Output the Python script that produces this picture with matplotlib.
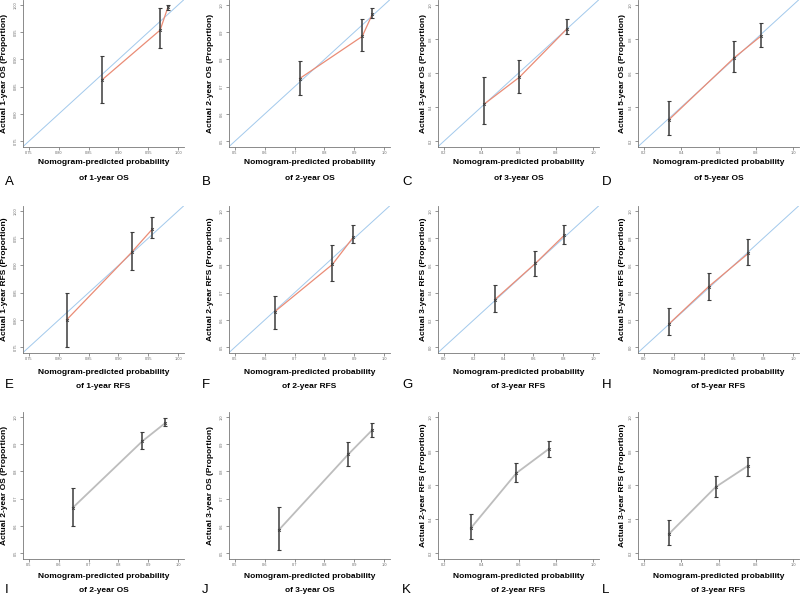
import matplotlib
matplotlib.use("Agg")
import matplotlib.pyplot as plt
import numpy as np

plt.rcParams['font.family'] = ['Liberation Sans', 'DejaVu Sans']

# Panel letters and outcome names (row by row)
letters = ["A", "B", "C", "D", "E", "F", "G", "H", "I", "J", "K", "L"]
outcomes = ["1-year OS", "2-year OS", "3-year OS", "5-year OS",
            "1-year RFS", "2-year RFS", "3-year RFS", "5-year RFS",
            "2-year OS", "3-year OS", "2-year RFS", "3-year RFS"]

# Axis tick ranges (first tick, last tick, step, decimals)
tick_lo = [0.75, 0.5, 0.2, 0.2, 0.75, 0.5, 0.0, 0.0, 0.5, 0.5, 0.2, 0.2]
tick_hi = [1.00, 1.0, 1.0, 1.0, 1.00, 1.0, 1.0, 1.0, 1.0, 1.0, 1.0, 1.0]
tick_step = [0.05, 0.1, 0.2, 0.2, 0.05, 0.1, 0.2, 0.2, 0.1, 0.1, 0.2, 0.2]
tick_dec = [2, 1, 1, 1, 2, 1, 1, 1, 1, 1, 1, 1]

# Nomogram-predicted probability (x) per panel
pred = [
    [0.873, 0.970, 0.983],   # A
    [0.717, 0.927, 0.961],   # B
    [0.416, 0.605, 0.859],   # C
    [0.332, 0.683, 0.828],   # D
    [0.813, 0.922, 0.957],   # E
    [0.633, 0.827, 0.897],   # F
    [0.340, 0.613, 0.807],   # G
    [0.168, 0.433, 0.700],   # H
    [0.647, 0.880, 0.957],   # I
    [0.647, 0.880, 0.960],   # J
    [0.344, 0.589, 0.762],   # K
    [0.333, 0.584, 0.756],   # L
]
# Actual proportion (y) per panel
actual = [
    [0.863, 0.954, 0.996],
    [0.730, 0.885, 0.967],
    [0.418, 0.576, 0.859],
    [0.324, 0.689, 0.818],
    [0.800, 0.924, 0.967],
    [0.630, 0.804, 0.904],
    [0.348, 0.615, 0.822],
    [0.171, 0.444, 0.689],
    [0.667, 0.911, 0.978],
    [0.585, 0.863, 0.952],
    [0.347, 0.671, 0.812],
    [0.312, 0.588, 0.712],
]
# 95% CI lower / upper
ci_low = [
    [0.820, 0.922, 0.990],
    [0.670, 0.830, 0.952],
    [0.300, 0.482, 0.829],
    [0.235, 0.606, 0.753],
    [0.750, 0.891, 0.950],
    [0.567, 0.744, 0.881],
    [0.259, 0.526, 0.755],
    [0.089, 0.348, 0.600],
    [0.600, 0.881, 0.967],
    [0.511, 0.822, 0.926],
    [0.282, 0.618, 0.765],
    [0.247, 0.529, 0.653],
]
ci_high = [
    [0.906, 0.995, 1.000],
    [0.793, 0.948, 0.990],
    [0.576, 0.676, 0.918],
    [0.435, 0.788, 0.894],
    [0.850, 0.962, 0.989],
    [0.689, 0.874, 0.948],
    [0.459, 0.704, 0.896],
    [0.289, 0.548, 0.793],
    [0.741, 0.944, 0.996],
    [0.670, 0.907, 0.978],
    [0.429, 0.729, 0.859],
    [0.394, 0.653, 0.765],
]

W, H = 800, 596
fig = plt.figure(figsize=(W / 100, H / 100), dpi=100)

# layout in pixels
col_left = [23, 229, 438, 638]
col_ylab = [5, 210, 423, 623]
col_letter = [5, 202, 402, 602]
row_top = [-0.4, 205.6, 411.6]
ax_w, ax_h = 161, 147
row_lab1 = [163, 372, 577]
row_lab2 = [178, 386, 590]
row_letter = [182, 385, 590]

RED = "#ea8c76"
BLUE = "#a2c9ec"
GREY = "#bdbdbd"
BAR = "#3c3c3c"

for i in range(12):
    r, c = divmod(i, 4)
    left, top = col_left[c], row_top[r]
    ax = fig.add_axes([left / W, 1 - (top + ax_h) / H, ax_w / W, ax_h / H])

    ticks = np.round(np.arange(tick_lo[i], tick_hi[i] + 1e-9, tick_step[i]), 2)
    pad = 0.04 * (tick_hi[i] - tick_lo[i])
    lims = (tick_lo[i] - pad, tick_hi[i] + pad)
    ax.set_xlim(lims)
    ax.set_ylim(lims)

    x = np.array(pred[i])
    y = np.array(actual[i])
    lo = np.array(ci_low[i])
    hi = np.array(ci_high[i])

    if r < 2:
        ax.plot(lims, lims, color=BLUE, lw=0.7, zorder=1)
        ax.plot(x, y, color=RED, lw=0.9, zorder=2)
    else:
        ax.plot(x, y, color=GREY, lw=1.3, zorder=2)
    ax.errorbar(x, y, yerr=[y - lo, hi - y], fmt='none', ecolor=BAR,
                elinewidth=1.1, capsize=1.6, capthick=0.8, zorder=3)
    ax.plot(x, y, ls='none', marker='x', ms=2, mew=0.6, color=BAR, zorder=4)

    fmt = "%%.%df" % tick_dec[i]
    ax.set_xticks(ticks)
    ax.set_yticks(ticks)
    ax.set_xticklabels([fmt % t for t in ticks])
    ax.set_yticklabels([fmt % t for t in ticks], rotation=90, va='center')
    ax.tick_params(length=2, width=0.5, colors="#666666", labelsize=2.8,
                   pad=1.5, labelcolor="#666666")
    for s in ["top", "right"]:
        ax.spines[s].set_visible(False)
    for s in ["left", "bottom"]:
        ax.spines[s].set_color("#777777")
        ax.spines[s].set_linewidth(0.6)
    ax.patch.set_alpha(0)

    cx = left + ax_w / 2
    fig.text(cx / W, 1 - row_lab1[r] / H, "Nomogram-predicted probability",
             ha='center', va='center', fontsize=6, fontweight='bold')
    fig.text(cx / W, 1 - row_lab2[r] / H, "of " + outcomes[i],
             ha='center', va='center', fontsize=6, fontweight='bold')
    fig.text(col_ylab[c] / W, 1 - (top + ax_h / 2) / H,
             "Actual " + outcomes[i] + " (Proportion)",
             ha='center', va='center', rotation=90, fontsize=6, fontweight='bold')
    fig.text(col_letter[c] / W, 1 - row_letter[r] / H, letters[i],
             ha='left', va='center', fontsize=9.5)

fig.savefig("out.png", dpi=100)
